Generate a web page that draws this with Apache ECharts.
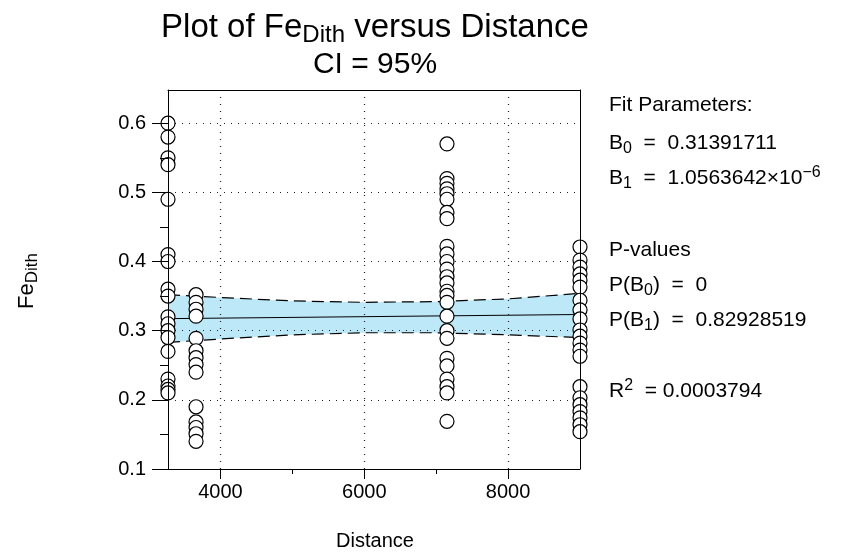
<!DOCTYPE html>
<html><head><meta charset="utf-8">
<script src="https://cdn.jsdelivr.net/npm/echarts@6/dist/echarts.min.js"></script>
<style>html,body{margin:0;padding:0;background:#fff}#c{width:851px;height:559px}</style>
</head><body><div id="c"></div>
<script>
// ---- data ----
const columnDistance = [3270, 3660, 7150, 9000];
const feCol1 = [0.60,0.58,0.55,0.54,0.49,0.41,0.40,0.36,0.35,0.32,0.31,0.30,0.29,0.27,0.23,0.22,0.215,0.21];
const feCol2 = [0.352,0.341,0.331,0.321,0.289,0.271,0.261,0.251,0.24,0.19,0.168,0.16,0.151,0.14];
const feCol3 = [0.57,0.52,0.513,0.505,0.498,0.49,0.471,0.462,0.422,0.411,0.40,0.389,0.378,0.369,0.357,0.351,0.341,0.321,0.30,0.289,0.26,0.249,0.23,0.219,0.21,0.169];
const feCol4 = [0.421,0.402,0.392,0.382,0.373,0.363,0.344,0.33,0.317,0.301,0.292,0.282,0.272,0.263,0.219,0.203,0.193,0.183,0.174,0.164,0.154];
const bandDistance = [3270, 4000, 5000, 6000, 7000, 8000, 9000];
const bandUpper = [0.352, 0.348, 0.343, 0.341, 0.342, 0.346, 0.354];
const bandLower = [0.283, 0.288, 0.294, 0.297, 0.297, 0.294, 0.290];
const fitDistance = [3270, 9000];
const fitFe = [0.3174, 0.3234];
const xTicks = [4000, 6000, 8000];
const xMinorTicks = [5000, 7000];
const yTicks = [0.1, 0.2, 0.3, 0.4, 0.5, 0.6];
const yMinorTicks = [0.15, 0.25, 0.35, 0.45, 0.55];
const xRange = [3270, 9000];
const yRange = [0.1, 0.648];

// ---- build ----
const F = 'Liberation Sans, Arial, Helvetica, sans-serif';
const cols = [feCol1, feCol2, feCol3, feCol4];
const scatterData = [];
cols.forEach((c, i) => c.forEach(v => scatterData.push([columnDistance[i], v])));
const pair = (xs, ys) => xs.map((x, i) => [x, ys[i]]);
const black = '#000';

function xAx(extra) {
  return Object.assign({
    type: 'value', min: xRange[0], max: xRange[1], z: 10,
    axisLine: { show: true, onZero: false, lineStyle: { color: black, width: 1 } },
    axisTick: { show: false }, axisLabel: { show: false }, splitLine: { show: false }
  }, extra);
}
function yAx(extra) {
  return Object.assign({
    type: 'value', min: yRange[0], max: yRange[1], z: 10,
    axisLine: { show: true, onZero: false, lineStyle: { color: black, width: 1 } },
    axisTick: { show: false }, axisLabel: { show: false }, splitLine: { show: false }
  }, extra);
}

const chart = echarts.init(document.getElementById('c'), null, { renderer: 'canvas' });
chart.setOption({
  animation: false,
  backgroundColor: '#fff',
  grid: { left: 168, right: 271, top: 90, bottom: 90, containLabel: false },
  xAxis: [
    xAx({ position: 'bottom',
      axisTick: { show: true, customValues: xTicks, length: 10, lineStyle: { color: black } },
      axisLabel: { show: true, customValues: xTicks, fontSize: 20, color: black, fontFamily: F, margin: 13, formatter: v => String(v) } }),
    xAx({ position: 'top' }),
    xAx({ position: 'bottom', axisLine: { show: false },
      axisTick: { show: true, customValues: xMinorTicks, length: 5, lineStyle: { color: black } } })
  ],
  yAxis: [
    yAx({ position: 'left',
      axisTick: { show: true, customValues: yTicks, length: 16, lineStyle: { color: black } },
      axisLabel: { show: true, customValues: yTicks, fontSize: 20, color: black, fontFamily: F, margin: 22, formatter: v => v.toFixed(1) } }),
    yAx({ position: 'right' }),
    yAx({ position: 'left', axisLine: { show: false },
      axisTick: { show: true, customValues: yMinorTicks, length: 8, lineStyle: { color: black } } })
  ],
  series: [
    { type: 'custom', name: 'band', data: [[bandDistance[0], bandUpper[0]]], z: 1, silent: true,
      renderItem: function (params, api) {
        const pts = [];
        for (let i = 0; i < bandDistance.length; i++) pts.push(api.coord([bandDistance[i], bandUpper[i]]));
        for (let i = bandDistance.length - 1; i >= 0; i--) pts.push(api.coord([bandDistance[i], bandLower[i]]));
        return { type: 'polygon', shape: { points: pts }, style: { fill: '#bde8f8', stroke: 'none' } };
      } },
    { type: 'line', name: 'grid', data: pair(fitDistance, fitFe), symbol: 'none', lineStyle: { opacity: 0, width: 0 }, z: 2, silent: true,
      markLine: { silent: true, symbol: ['none', 'none'], label: { show: false }, animation: false,
        lineStyle: { type: [1, 6], color: '#222', width: 1.2 },
        data: xTicks.map(v => ({ xAxis: v })).concat(yTicks.filter(v => v > yRange[0]).map(v => ({ yAxis: v }))) } },
    { type: 'line', name: 'upper', data: pair(bandDistance, bandUpper), symbol: 'none',
      lineStyle: { color: black, width: 1.2, type: [12, 6] }, z: 3 },
    { type: 'line', name: 'lower', data: pair(bandDistance, bandLower), symbol: 'none',
      lineStyle: { color: black, width: 1.2, type: [12, 6] }, z: 3 },
    { type: 'line', name: 'fit', data: pair(fitDistance, fitFe), symbol: 'none',
      lineStyle: { color: black, width: 1 }, z: 3 },
    { type: 'scatter', name: 'FeDith', data: scatterData, symbol: 'circle', symbolSize: 14,
      itemStyle: { color: '#fff', borderColor: black, borderWidth: 1.2, opacity: 1 }, z: 5 }
  ],
  graphic: [
    { type: 'text', x: 375, y: 28, style: { text: '{a|Plot of Fe}{s|Dith}{a| versus Distance}', align: 'center', verticalAlign: 'middle', fill: black,
        rich: { a: { fontSize: 33, lineHeight: 38, fontFamily: F, fill: black }, s: { fontSize: 24, lineHeight: 19, verticalAlign: 'bottom', fontFamily: F, fill: black } } } },
    { type: 'text', x: 375, y: 65, style: { text: 'CI = 95%', align: 'center', verticalAlign: 'middle', fill: black, fontSize: 30, fontFamily: F } },
    { type: 'text', x: 375, y: 541, style: { text: 'Distance', align: 'center', verticalAlign: 'middle', fill: black, fontSize: 20, fontFamily: F } },
    { type: 'text', x: 27, y: 281, rotation: Math.PI / 2, style: { text: '{a|Fe}{s|Dith}', align: 'center', verticalAlign: 'middle', fill: black,
        rich: { a: { fontSize: 22, lineHeight: 28, fontFamily: F, fill: black }, s: { fontSize: 17, lineHeight: 14, verticalAlign: 'bottom', fontFamily: F, fill: black } } } },
    ...[
      ['{a|Fit Parameters:}', 105],
      ['{a|B}{s|0}{a|  =  0.31391711}', 143],
      ['{a|B}{s|1}{a|  =  1.0563642×10}{p|−6}', 178],
      ['{a|P-values}', 250],
      ['{a|P(B}{s|0}{a|)  =  0}', 285],
      ['{a|P(B}{s|1}{a|)  =  0.82928519}', 320],
      ['{a|R}{p|2}{a|  = 0.0003794}', 391]
    ].map(([t, y]) => ({ type: 'text', x: 609, y: y, style: { text: t, align: 'left', verticalAlign: 'middle', fill: black,
        rich: { a: { fontSize: 21, lineHeight: 27, fontFamily: F, fill: black },
                s: { fontSize: 16, lineHeight: 13, verticalAlign: 'bottom', fontFamily: F, fill: black },
                p: { fontSize: 16, lineHeight: 13, verticalAlign: 'top', fontFamily: F, fill: black } } } }))
  ]
});
</script></body></html>
